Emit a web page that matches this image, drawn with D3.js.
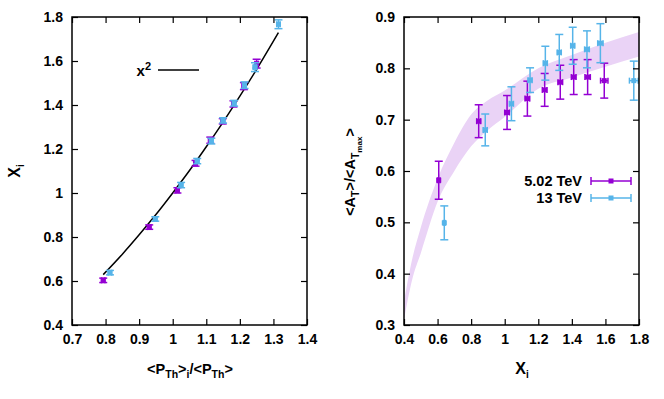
<!DOCTYPE html>
<head>
<meta charset="utf-8">
<title>Xi panels</title>
<script src="https://d3js.org/d3.v7.min.js"></script>
<style>
    body { margin: 0; background: #fff; }
    text { font-family: "Liberation Sans", Arial, sans-serif; font-weight: bold; fill: #000; }
    .axis path { display: none; }
    .axis line { stroke: #000; stroke-width: 1.2; }
    .axis text { font-size: 14px; }
    .frame { fill: none; stroke: #000; stroke-width: 1.5; }
    .lbl { font-size: 14.5px; }
</style>
</head>
<body>
<div id="container"></div>
<script>
// ---------------- DATA ----------------
// left panel: X_i vs <P_Th>_i/<P_Th>
var leftXTicks = [0.7, 0.8, 0.9, 1.0, 1.1, 1.2, 1.3, 1.4];
var leftXLabels = ["0.7", "0.8", "0.9", "1", "1.1", "1.2", "1.3", "1.4"];
var leftYTicks = [0.4, 0.6, 0.8, 1.0, 1.2, 1.4, 1.6, 1.8];
var leftYLabels = ["0.4", "0.6", "0.8", "1", "1.2", "1.4", "1.6", "1.8"];

var lPurpleX = [0.793, 0.930, 1.014, 1.068, 1.112, 1.149, 1.181, 1.212, 1.250];
var lPurpleY = [0.603, 0.845, 1.012, 1.135, 1.240, 1.326, 1.405, 1.486, 1.588];
var lPurpleErr = [0.010, 0.010, 0.012, 0.013, 0.014, 0.012, 0.014, 0.016, 0.020];

var lBlueX = [0.813, 0.948, 1.025, 1.073, 1.115, 1.150, 1.183, 1.214, 1.245, 1.315];
var lBlueY = [0.638, 0.882, 1.036, 1.145, 1.236, 1.330, 1.408, 1.490, 1.572, 1.767];
var lBlueErr = [0.010, 0.010, 0.012, 0.012, 0.013, 0.012, 0.013, 0.015, 0.020, 0.020];

// the x^2 curve
var fitX = [0.793, 0.85, 0.9, 0.95, 1.0, 1.05, 1.1, 1.15, 1.2, 1.25, 1.315];
var fitY = [0.629, 0.722, 0.81, 0.902, 1.0, 1.102, 1.21, 1.322, 1.44, 1.562, 1.729];

// right panel: <A_T>/<A_Tmax> vs X_i
var rightXTicks = [0.4, 0.6, 0.8, 1.0, 1.2, 1.4, 1.6, 1.8];
var rightXLabels = ["0.4", "0.6", "0.8", "1", "1.2", "1.4", "1.6", "1.8"];
var rightYTicks = [0.3, 0.4, 0.5, 0.6, 0.7, 0.8, 0.9];
var rightYLabels = ["0.3", "0.4", "0.5", "0.6", "0.7", "0.8", "0.9"];

var rPurpleX = [0.607, 0.845, 1.014, 1.135, 1.238, 1.331, 1.411, 1.494, 1.593];
var rPurpleY = [0.582, 0.697, 0.714, 0.741, 0.758, 0.773, 0.783, 0.783, 0.776];
var rPurpleErr = [0.037, 0.032, 0.033, 0.034, 0.032, 0.033, 0.034, 0.034, 0.034];
var rPurpleXErr = [0.008, 0.012, 0.014, 0.014, 0.014, 0.014, 0.014, 0.016, 0.022];

var rBlueX = [0.640, 0.884, 1.040, 1.151, 1.242, 1.325, 1.405, 1.490, 1.570, 1.769];
var rBlueY = [0.499, 0.680, 0.731, 0.777, 0.810, 0.831, 0.844, 0.837, 0.849, 0.776];
var rBlueErr = [0.033, 0.031, 0.033, 0.024, 0.033, 0.035, 0.036, 0.036, 0.038, 0.038];
var rBlueXErr = [0.006, 0.012, 0.012, 0.012, 0.012, 0.012, 0.012, 0.014, 0.016, 0.026];

// model band
var bandX = [0.4, 0.45, 0.5, 0.6, 0.7, 0.8, 0.9, 1.0, 1.2, 1.4, 1.6, 1.8];
var bandHi = [0.345, 0.43, 0.49, 0.585, 0.655, 0.71, 0.738, 0.757, 0.80, 0.826, 0.85, 0.871];
var bandLo = [0.31, 0.39, 0.44, 0.54, 0.60, 0.648, 0.68, 0.705, 0.76, 0.782, 0.803, 0.823];

var purple = "#9400d3";
var blue = "#56b4e9";

//------------------------ SVG ------------------------
var svg = d3.select("#container").append("svg")
    .attr("width", 664)
    .attr("height", 399);

var top0 = 17, bot0 = 325;

function panel(x0, x1, xdom, ydom, xt, xl, yt, yl) {
    var g = svg.append("g");
    var x = d3.scaleLinear().domain(xdom).range([x0, x1]);
    var y = d3.scaleLinear().domain(ydom).range([bot0, top0]);
    return {g: g, x: x, y: y, xt: xt, xl: xl, yt: yt, yl: yl, x0: x0, x1: x1};
}

function drawAxes(p) {
    var g = p.g;
    g.append("g").attr("class", "axis")
        .attr("transform", "translate(0," + bot0 + ")")
        .call(d3.axisBottom(p.x).tickValues(p.xt).tickSizeInner(-6).tickSizeOuter(0)
            .tickPadding(9).tickFormat(function(d, i) { return p.xl[i]; }));
    g.append("g").attr("class", "axis")
        .attr("transform", "translate(0," + top0 + ")")
        .call(d3.axisTop(p.x).tickValues(p.xt).tickSizeInner(-6).tickSizeOuter(0)
            .tickFormat(""));
    g.append("g").attr("class", "axis")
        .attr("transform", "translate(" + p.x0 + ",0)")
        .call(d3.axisLeft(p.y).tickValues(p.yt).tickSizeInner(-6).tickSizeOuter(0)
            .tickPadding(9).tickFormat(function(d, i) { return p.yl[i]; }));
    g.append("g").attr("class", "axis")
        .attr("transform", "translate(" + p.x1 + ",0)")
        .call(d3.axisRight(p.y).tickValues(p.yt).tickSizeInner(-6).tickSizeOuter(0)
            .tickFormat(""));
    g.selectAll(".axis text").style("font-family", "'Liberation Sans', Arial, sans-serif");
    g.append("rect").attr("class", "frame")
        .attr("x", p.x0).attr("y", top0)
        .attr("width", p.x1 - p.x0).attr("height", bot0 - top0);
}

function errPoints(p, xs, ys, yerr, xerr, color, cap) {
    var g = p.g.append("g").attr("stroke", color).attr("stroke-width", 1.5);
    xs.forEach(function(v, i) {
        var cx = p.x(v), cy = p.y(ys[i]);
        var yTop = p.y(ys[i] + yerr[i]), yBot = p.y(ys[i] - yerr[i]);
        g.append("line").attr("x1", cx).attr("x2", cx).attr("y1", yTop).attr("y2", yBot);
        g.append("line").attr("x1", cx - cap).attr("x2", cx + cap).attr("y1", yTop).attr("y2", yTop);
        g.append("line").attr("x1", cx - cap).attr("x2", cx + cap).attr("y1", yBot).attr("y2", yBot);
        var xl = p.x(v - xerr[i]), xr = p.x(v + xerr[i]);
        g.append("line").attr("x1", xl).attr("x2", xr).attr("y1", cy).attr("y2", cy);
        g.append("line").attr("x1", xl).attr("x2", xl).attr("y1", cy - 3).attr("y2", cy + 3);
        g.append("line").attr("x1", xr).attr("x2", xr).attr("y1", cy - 3).attr("y2", cy + 3);
        g.append("rect").attr("x", cx - 2.5).attr("y", cy - 2.5)
            .attr("width", 5).attr("height", 5).attr("fill", color).attr("stroke", "none");
    });
}

//------------------------ LEFT ------------------------
var L = panel(72, 307, [0.7, 1.4], [0.4, 1.8], leftXTicks, leftXLabels, leftYTicks, leftYLabels);

var fitLine = d3.line()
    .x(function(d, i) { return L.x(fitX[i]); })
    .y(function(d, i) { return L.y(fitY[i]); })
    .curve(d3.curveMonotoneX);
L.g.append("path").datum(fitX).attr("d", fitLine)
    .attr("fill", "none").attr("stroke", "#000").attr("stroke-width", 1.5);

var smallX = function(arr) { return arr.map(function() { return 0.005; }); };
errPoints(L, lPurpleX, lPurpleY, lPurpleErr, smallX(lPurpleX), purple, 4);
errPoints(L, lBlueX, lBlueY, lBlueErr, smallX(lBlueX), blue, 4);

drawAxes(L);

// legend x^2
var lx = L.g.append("text").attr("x", 151).attr("y", 76).attr("text-anchor", "end").style("font-size", "15px");
lx.append("tspan").text("x");
lx.append("tspan").attr("dy", -6).style("font-size", "11px").text("2");
L.g.append("line").attr("x1", 158).attr("x2", 199).attr("y1", 70).attr("y2", 70)
    .attr("stroke", "#000").attr("stroke-width", 1.5);

// axis titles
var xt = L.g.append("text").attr("class", "lbl").attr("x", 190).attr("y", 374).attr("text-anchor", "middle");
xt.append("tspan").text("<P");
xt.append("tspan").attr("dy", 4).style("font-size", "10.5px").text("Th");
xt.append("tspan").attr("dy", -4).text(">");
xt.append("tspan").attr("dy", 4).style("font-size", "10.5px").text("i");
xt.append("tspan").attr("dy", -4).text("/<P");
xt.append("tspan").attr("dy", 4).style("font-size", "10.5px").text("Th");
xt.append("tspan").attr("dy", -4).text(">");

var yt = L.g.append("text").attr("class", "lbl").attr("text-anchor", "middle")
    .attr("transform", "translate(20,171) rotate(-90)");
yt.append("tspan").style("font-size", "16px").text("X");
yt.append("tspan").attr("dy", 4).style("font-size", "10px").text("i");

//------------------------ RIGHT ------------------------
var R = panel(404, 639, [0.4, 1.8], [0.3, 0.9], rightXTicks, rightXLabels, rightYTicks, rightYLabels);

var band = d3.area()
    .x(function(d, i) { return R.x(bandX[i]); })
    .y0(function(d, i) { return R.y(bandLo[i]); })
    .y1(function(d, i) { return R.y(bandHi[i]); })
    .curve(d3.curveMonotoneX);
R.g.append("path").datum(bandX).attr("d", band).attr("fill", "#ead3f6").attr("stroke", "none");

errPoints(R, rPurpleX, rPurpleY, rPurpleErr, rPurpleXErr, purple, 4);
errPoints(R, rBlueX, rBlueY, rBlueErr, rBlueXErr, blue, 4);

drawAxes(R);

// legend
var legItems = [["5.02 TeV", purple, 181], ["13 TeV", blue, 198]];
legItems.forEach(function(it) {
    R.g.append("text").attr("x", 582).attr("y", it[2] + 5).attr("text-anchor", "end")
        .style("font-size", "14.5px").text(it[0]);
    var lg = R.g.append("g").attr("stroke", it[1]).attr("stroke-width", 1.5);
    lg.append("line").attr("x1", 591).attr("x2", 631).attr("y1", it[2]).attr("y2", it[2]);
    lg.append("line").attr("x1", 591).attr("x2", 591).attr("y1", it[2] - 4).attr("y2", it[2] + 4);
    lg.append("line").attr("x1", 631).attr("x2", 631).attr("y1", it[2] - 4).attr("y2", it[2] + 4);
    lg.append("rect").attr("x", 608.5).attr("y", it[2] - 2.5).attr("width", 5).attr("height", 5)
        .attr("fill", it[1]).attr("stroke", "none");
});

// axis titles
var rx = R.g.append("text").attr("class", "lbl").attr("text-anchor", "middle")
    .attr("x", 522).attr("y", 374);
rx.append("tspan").style("font-size", "16px").text("X");
rx.append("tspan").attr("dy", 4).style("font-size", "10px").text("i");

var ry = R.g.append("text").attr("class", "lbl").attr("text-anchor", "middle")
    .attr("transform", "translate(355,172) rotate(-90)");
ry.append("tspan").text("<A");
ry.append("tspan").attr("dy", 4).style("font-size", "10.5px").text("T");
ry.append("tspan").attr("dy", -4).text(">/<A");
ry.append("tspan").attr("dy", 4).style("font-size", "10.5px").text("T");
ry.append("tspan").attr("dy", 3).style("font-size", "8px").text("max");
ry.append("tspan").attr("dy", -7).text(">");
</script>
</body>
